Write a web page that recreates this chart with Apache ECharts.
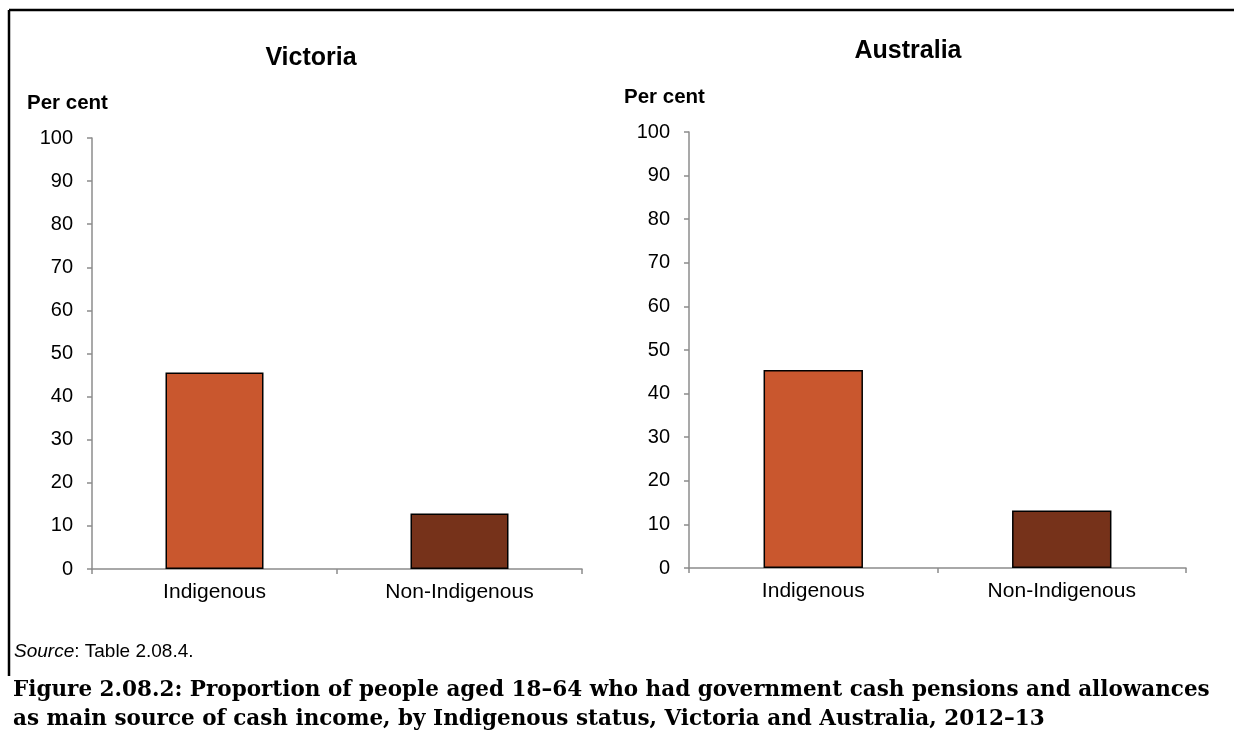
<!DOCTYPE html>
<html><head><meta charset="utf-8">
<script src="https://cdn.jsdelivr.net/npm/echarts@6/dist/echarts.min.js"></script>
<style>html,body{margin:0;padding:0;background:#fff}#c{width:1234px;height:738px}</style>
</head><body><div id="c"></div>
<script>
const categories = ['Indigenous', 'Non-Indigenous'];
const victoriaValues = [45.6, 12.9];
const australiaValues = [45.4, 13.2];
const barColors = ['#C9572E', '#76321A'];
const panelTitles = ['Victoria', 'Australia'];
const yTicks = [0, 10, 20, 30, 40, 50, 60, 70, 80, 90, 100];

const FONT = 'Liberation Sans, Arial, sans-serif';
const axisColor = '#8c8c8c';

function xAxis(i) {
  return {
    type: 'category', gridIndex: i, data: categories,
    axisLine: { lineStyle: { color: axisColor, width: 1.5 } },
    axisTick: { show: true, length: 5, lineStyle: { color: axisColor, width: 1.5 } },
    axisLabel: { color: '#000', fontSize: 21, fontFamily: FONT, margin: 13 }
  };
}
function yAxis(i) {
  return {
    type: 'value', gridIndex: i, min: yTicks[0], max: yTicks[yTicks.length - 1], interval: 10,
    axisLine: { show: true, lineStyle: { color: axisColor, width: 1.5 } },
    axisTick: { show: true, length: 5, lineStyle: { color: axisColor, width: 1.5 } },
    splitLine: { show: false },
    axisLabel: { color: '#000', fontSize: 20, fontFamily: FONT, margin: 19 }
  };
}
function series(i, vals) {
  return {
    type: 'bar', xAxisIndex: i, yAxisIndex: i, barWidth: '40%',
    data: vals.map((v, k) => ({ value: v, itemStyle: { color: barColors[k], borderColor: '#000', borderWidth: 1.5 } }))
  };
}

const chart = echarts.init(document.getElementById('c'));
chart.setOption({
  animation: false,
  backgroundColor: '#fff',
  title: [
    { text: panelTitles[0], left: 311, top: 46, padding: 0, textAlign: 'center', textStyle: { fontSize: 25, fontWeight: 'bold', fontFamily: FONT, color: '#000' } },
    { text: panelTitles[1], left: 908, top: 39, padding: 0, textAlign: 'center', textStyle: { fontSize: 25, fontWeight: 'bold', fontFamily: FONT, color: '#000' } },
    { text: 'Per cent', left: 27, top: 93, padding: 0, textStyle: { fontSize: 20.5, fontWeight: 'bold', fontFamily: FONT, color: '#000' } },
    { text: 'Per cent', left: 624, top: 87, padding: 0, textStyle: { fontSize: 20.5, fontWeight: 'bold', fontFamily: FONT, color: '#000' } },
    { text: '{i|Source}: Table 2.08.4.', left: 14, top: 642, padding: 0,
      textStyle: { fontSize: 19, fontWeight: 'normal', fontFamily: FONT, color: '#000',
        rich: { i: { fontStyle: 'italic', fontWeight: 'normal', fontSize: 19, fontFamily: FONT, color: '#000' } } } },
    { text: 'Figure 2.08.2: Proportion of people aged 18–64 who had government cash pensions and allowances\nas main source of cash income, by Indigenous status, Victoria and Australia, 2012–13',
      left: 13, top: 676, padding: 0, textStyle: { fontSize: 21.5, fontWeight: 'bold', fontFamily: 'DejaVu Serif, serif', color: '#000', lineHeight: 29 } }
  ],
  grid: [
    { left: 92, right: 652, top: 138, bottom: 169 },
    { left: 689, right: 48, top: 132, bottom: 170 }
  ],
  xAxis: [xAxis(0), xAxis(1)],
  yAxis: [yAxis(0), yAxis(1)],
  series: [series(0, victoriaValues), series(1, australiaValues)],
  graphic: [
    { type: 'line', shape: { x1: 9, y1: 10, x2: 1234, y2: 10 }, style: { stroke: '#000', lineWidth: 2.5 } },
    { type: 'line', shape: { x1: 9, y1: 10, x2: 9, y2: 676 }, style: { stroke: '#000', lineWidth: 2.5 } }
  ]
});
</script></body></html>
